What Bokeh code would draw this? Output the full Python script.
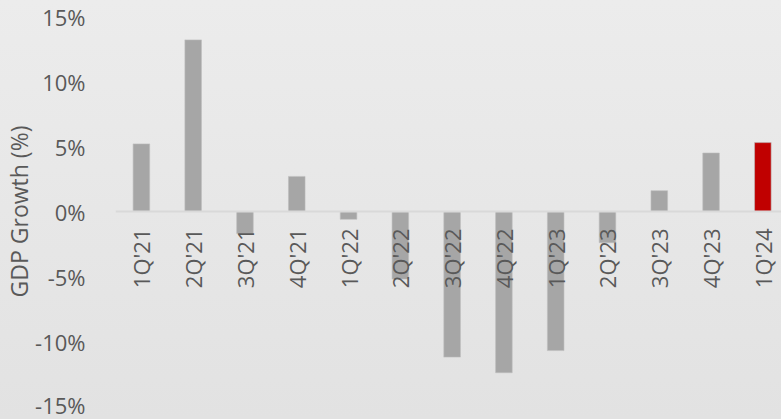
from bokeh.plotting import figure
from bokeh.models import ColumnDataSource, Range1d, FixedTicker, Span
from bokeh.core.properties import value
from bokeh.embed import file_html
from bokeh.resources import INLINE

quarters = ["1Q'21", "2Q'21", "3Q'21", "4Q'21", "1Q'22", "2Q'22", "3Q'22",
            "4Q'22", "1Q'23", "2Q'23", "3Q'23", "4Q'23", "1Q'24"]
growth = [5.2, 13.2, -1.7, 2.7, -0.6, -5.2, -11.2, -12.4, -10.7, -2.4, 1.6, 4.5, 5.3]
y_ticks = [-15, -10, -5, 0, 5, 10, 15]
y_tick_labels = ["-15%", "-10%", "-5%", "0%", "5%", "10%", "15%"]

FONT = "Open Sans"
TEXT_COLOR = "#595959"

xs = list(range(len(quarters)))
colors = ["#a6a6a6"] * (len(quarters) - 1) + ["#c00000"]
src = ColumnDataSource(dict(x=xs, top=growth, color=colors, label=quarters,
                            zero=[0] * len(quarters)))

p = figure(width=781, height=419, output_backend="svg", toolbar_location=None,
           x_range=Range1d(-0.5, 12.36), y_range=Range1d(-15, 15),
           min_border_left=0, min_border_right=0, min_border_top=16,
           min_border_bottom=13)

p.border_fill_color = None
p.background_fill_color = None
p.outline_line_color = None
p.styles = {"background": "linear-gradient(#ececec, #e2e2e2)"}

p.xaxis.visible = False
p.grid.visible = False

yax = p.yaxis[0]
yax.ticker = FixedTicker(ticks=y_ticks)
yax.major_label_overrides = {t: l for t, l in zip(y_ticks, y_tick_labels)}
yax.axis_line_color = None
yax.major_tick_line_color = None
yax.minor_tick_line_color = None
yax.major_label_text_font = FONT
yax.major_label_text_font_size = "22px"
yax.major_label_text_color = TEXT_COLOR
yax.major_label_standoff = 24
yax.axis_label = "GDP Growth (%)"
yax.axis_label_text_font = FONT
yax.axis_label_text_font_size = "23px"
yax.axis_label_text_font_style = "normal"
yax.axis_label_text_color = TEXT_COLOR
yax.axis_label_standoff = -3

# zero line
p.add_layout(Span(location=0, dimension="width", line_color="#d9d9d9", line_width=2))

p.vbar(x="x", top="top", bottom="zero", width=0.32, fill_color="color",
       line_color="#bdbdbd", line_width=0.6, source=src)

# quarter labels hanging below the zero line
p.text(x="x", y="zero", text="label", angle=1.5708, text_align="right",
       text_baseline="middle", y_offset=17, text_font=value(FONT),
       text_font_size="22px", text_color=TEXT_COLOR, source=src)

open("out.html", "w").write(file_html(p, INLINE))
